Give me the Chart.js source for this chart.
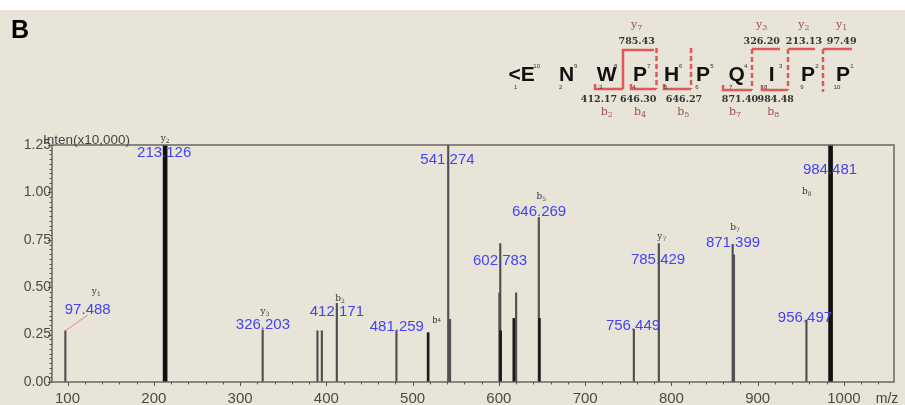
<!DOCTYPE html>
<html>
<head>
<meta charset="utf-8">
<script src="https://cdn.jsdelivr.net/npm/chart.js@4.4.1/dist/chart.umd.min.js"></script>
<style>
  html, body { margin: 0; padding: 0; background: #fff; }
  #wrap { width: 905px; height: 405px; }
</style>
</head>
<body>
<div id="wrap"><canvas id="spectrum" width="905" height="405"></canvas></div>
<script>
// peaks: m/z and intensity (x10,000)
const thinMz  = [97.488, 326.203, 389.7, 394.8, 412.171, 481.259, 541.274, 543.4, 600.6, 601.6, 617.6, 620.0, 646.3, 756.449, 785.429, 871.0, 872.5, 956.497];
const thinInt = [0.27, 0.275, 0.27, 0.27, 0.415, 0.27, 1.25, 0.33, 0.47, 0.73, 0.335, 0.47, 0.868, 0.278, 0.73, 0.726, 0.67, 0.327];
const thickMz  = [213.126, 984.481];
const thickInt = [1.25, 1.25];
const darkMz  = [518.0, 602.0, 617.3, 647.0];
const darkInt = [0.26, 0.27, 0.335, 0.336];

const xTicks = [100, 200, 300, 400, 500, 600, 700, 800, 900, 1000];
const yTicks = [0, 0.25, 0.5, 0.75, 1.0, 1.25];

// peak annotations
const peakText = ['97.488', '213.126', '326.203', '412.171', '481.259', '541.274', '602.783', '646.269', '756.449', '785.429', '871.399', '956.497', '984.481'];
const ionText  = ['y1', 'y2', 'y3', 'b2', 'b4', 'b5', 'y7', 'b7', 'b8'];

// where the annotations sit (label centre, in axis units)
const peakTextAt = [[123.4, 0.38], [212, 1.208], [326.5, 0.301], [412.2, 0.371], [481.7, 0.292], [540.4, 1.171],
  [601.4, 0.638], [646.6, 0.898], [755.5, 0.295], [784.5, 0.643], [871.4, 0.735], [954.8, 0.336], [983.8, 1.118]];
const ionTextAt = [[133.3, 0.476], [213.2, 1.282], [328.8, 0.371], [416, 0.441], [528, 0.323], [649.2, 0.977],
  [788.8, 0.766], [873.7, 0.816], [956.9, 1.002]];

// sequence panel
const residues = ['<E', 'N', 'W', 'P', 'H', 'P', 'Q', 'I', 'P', 'P'];
const seqTop = ['785.43', '326.20', '213.13', '97.49'];
const seqTopIon = ['y7', 'y3', 'y2', 'y1'];
const seqBottom = ['412.17', '646.30', '646.27', '871.40', '984.48'];
const seqBottomIon = ['b2', 'b4', 'b5', 'b7', 'b8'];

const resX = [521.7, 566.7, 606.7, 640, 671.7, 703, 736.7, 771.7, 808, 843];
const topX = [636.7, 761.7, 804, 841.7];
const bottomX = [599, 638.3, 684, 740, 775.8];
const bottomIonX = [606.7, 640, 683.3, 735, 773.3];

const SANS = "'Liberation Sans', Arial, sans-serif";
const SERIF = "'DejaVu Serif', serif";
const BEIGE = '#e8e5d8';

const toPts = (xs, ys) => xs.map((x, i) => ({ x: x, y: ys[i] }));

function drawIon(ctx, name, x, y, size, color, sub) {
  const a = name[0], n = name.slice(1);
  const fam = sub ? SERIF : SANS;
  ctx.font = size + 'px ' + fam;
  const wa = ctx.measureText(a).width;
  const subSize = Math.round(size * 0.7);
  ctx.font = subSize + 'px ' + fam;
  const wn = ctx.measureText(n).width;
  const left = x - (wa + wn) / 2;
  ctx.fillStyle = color;
  ctx.textAlign = 'left';
  ctx.textBaseline = 'middle';
  ctx.font = size + 'px ' + fam;
  ctx.fillText(a, left, y);
  ctx.font = subSize + 'px ' + fam;
  ctx.fillText(n, left + wa, y + (sub ? size * 0.3 : 0));
}

const background = {
  id: 'background',
  beforeDraw(chart) {
    const c = chart.ctx;
    c.save();
    c.fillStyle = '#fff';
    c.fillRect(0, 0, chart.width, chart.height);
    c.fillStyle = BEIGE;
    c.fillRect(0, 10, chart.width, chart.height - 10);
    c.restore();
  }
};

const frame = {
  id: 'frame',
  afterDatasetsDraw(chart) {
    const c = chart.ctx, a = chart.chartArea;
    const sx = chart.scales.x, sy = chart.scales.y;
    c.save();
    c.strokeStyle = '#666';
    c.lineWidth = 1.5;
    c.strokeRect(a.left, a.top, a.right - a.left, a.bottom - a.top);
    c.lineWidth = 1;
    c.strokeStyle = '#555';
    c.beginPath();
    for (let v = 100; v <= 1040; v += 20) {
      const px = Math.round(sx.getPixelForValue(v)) + 0.5;
      c.moveTo(px, a.bottom);
      c.lineTo(px, a.bottom + (v % 100 === 0 ? 4 : 2.5));
    }
    for (let k = 0; k <= 50; k++) {
      const py = Math.round(sy.getPixelForValue(k * 0.025)) + 0.5;
      c.moveTo(a.left, py);
      c.lineTo(a.left - (k % 10 === 0 ? 4 : 2.5), py);
    }
    c.stroke();

    c.fillStyle = '#444';
    c.font = '13.5px ' + SANS;
    c.textAlign = 'left';
    c.textBaseline = 'bottom';
    c.fillText('Inten(x10,000)', 43, a.top + 2);
    c.font = '14px ' + SANS;
    c.textAlign = 'center';
    c.textBaseline = 'middle';
    c.fillText('m/z', 887, 399);
    c.restore();
  }
};

const annotations = {
  id: 'annotations',
  afterDraw(chart) {
    const c = chart.ctx;
    const sx = chart.scales.x, sy = chart.scales.y;
    c.save();
    // leader for the y1 label
    c.strokeStyle = '#f08080';
    c.lineWidth = 1;
    c.beginPath();
    c.moveTo(sx.getPixelForValue(97.488), sy.getPixelForValue(0.27));
    c.lineTo(sx.getPixelForValue(123.5), sy.getPixelForValue(0.353));
    c.stroke();

    c.fillStyle = '#4343f0';
    c.font = '15px ' + SANS;
    c.textAlign = 'center';
    c.textBaseline = 'middle';
    peakText.forEach((t, i) => {
      c.fillText(t, sx.getPixelForValue(peakTextAt[i][0]), sy.getPixelForValue(peakTextAt[i][1]));
    });
    ionText.forEach((t, i) => {
      drawIon(c, t, sx.getPixelForValue(ionTextAt[i][0]), sy.getPixelForValue(ionTextAt[i][1]), 9, '#333', t !== 'b4');
    });
    c.restore();
  }
};

const sequence = {
  id: 'sequence',
  afterDraw(chart) {
    const c = chart.ctx;
    c.save();
    // red cleavage brackets
    c.strokeStyle = '#e05858';
    c.lineWidth = 2.5;
    const solid = [
      [[654, 50], [623, 50], [623, 89]],
      [[595, 84], [595, 89], [623, 89]],
      [[631, 84], [631, 89], [656, 89]],
      [[664, 84], [664, 89], [691, 89]],
      [[780, 49], [752, 49]],
      [[723, 85], [723, 90], [752, 90]],
      [[815, 49], [788, 49]],
      [[762, 85], [762, 90], [788, 90]],
      [[852, 49], [823, 49]]
    ];
    solid.forEach(p => {
      c.beginPath();
      c.moveTo(p[0][0], p[0][1]);
      p.slice(1).forEach(q => c.lineTo(q[0], q[1]));
      c.stroke();
    });
    c.setLineDash([5, 3]);
    [[656.5, 48, 89], [691, 48, 89], [752, 49, 90], [788, 49, 90], [823, 49, 92]].forEach(v => {
      c.beginPath();
      c.moveTo(v[0], v[1]);
      c.lineTo(v[0], v[2]);
      c.stroke();
    });
    c.setLineDash([]);

    // residues
    c.fillStyle = '#111';
    c.textAlign = 'center';
    c.textBaseline = 'alphabetic';
    c.font = 'bold 21px ' + SANS;
    residues.forEach((r, i) => c.fillText(r, resX[i], 81));
    c.font = '6px ' + SANS;
    c.fillStyle = '#333';
    residues.forEach((r, i) => {
      const w = r.length > 1 ? 15 : 9;
      c.fillText(String(residues.length - i), resX[i] + w, 68);
      c.fillText(String(i + 1), resX[i] - 6, 89);
    });

    // fragment masses
    c.font = 'bold 9.5px ' + SERIF;
    c.fillStyle = '#333';
    c.textBaseline = 'middle';
    seqTop.forEach((t, i) => c.fillText(t, topX[i], 41.7));
    seqBottom.forEach((t, i) => c.fillText(t, bottomX[i], 100));
    seqTopIon.forEach((t, i) => drawIon(c, t, topX[i], 25, 11, '#9a5050', true));
    seqBottomIon.forEach((t, i) => drawIon(c, t, bottomIonX[i], 112, 11, '#9a5050', true));

    c.fillStyle = '#000';
    c.font = 'bold 25px ' + SANS;
    c.textAlign = 'left';
    c.textBaseline = 'alphabetic';
    c.fillText('B', 11, 38);
    c.restore();
  }
};

new Chart(document.getElementById('spectrum'), {
  type: 'bar',
  data: {
    datasets: [
      { data: toPts(thinMz, thinInt), backgroundColor: '#505050', barThickness: 1.5, grouped: false, order: 3 },
      { data: toPts(darkMz, darkInt), backgroundColor: '#1a1a1a', barThickness: 2, grouped: false, order: 1 },
      { data: toPts(thickMz, thickInt), backgroundColor: '#111', barThickness: 4, grouped: false, order: 2 }
    ]
  },
  options: {
    responsive: false,
    animation: false,
    layout: { padding: { top: 145, right: 11, left: 0, bottom: 0 } },
    plugins: { legend: { display: false }, tooltip: { enabled: false } },
    scales: {
      x: {
        type: 'linear',
        offset: false,
        min: 82,
        max: 1058,
        afterBuildTicks: s => { s.ticks = xTicks.map(v => ({ value: v })); },
        afterFit: s => { s.height = 23; },
        grid: { display: false, drawTicks: false, offset: false },
        border: { display: false },
        ticks: { color: '#4a4a4a', font: { family: SANS, size: 15 }, padding: 8, maxRotation: 0, autoSkip: false, callback: v => String(v) }
      },
      y: {
        min: 0,
        max: 1.25,
        afterBuildTicks: s => { s.ticks = yTicks.map(v => ({ value: v })); },
        afterFit: s => { s.width = 52; },
        grid: { display: false, drawTicks: false },
        border: { display: false },
        ticks: { color: '#4a4a4a', font: { family: SANS, size: 14 }, padding: 1, callback: v => v.toFixed(2) }
      }
    }
  },
  plugins: [background, frame, annotations, sequence]
});
</script>
</body>
</html>
